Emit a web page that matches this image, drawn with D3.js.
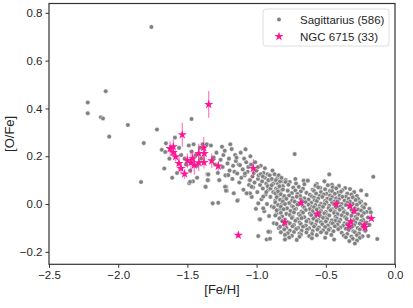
<!DOCTYPE html>
<html>
<head>
<meta charset="utf-8">
<script src="https://cdn.jsdelivr.net/npm/d3@7"></script>
<style>
  html, body { margin: 0; padding: 0; background: #fff; }
  svg { display: block; font-family: "Liberation Sans", Arial, sans-serif; }
</style>
</head>
<body>
<div id="chart"></div>
<script>
// ---- data ----
const xTicks = [-2.5, -2.0, -1.5, -1.0, -0.5, 0.0]
const yTicks = [-0.2, 0.0, 0.2, 0.4, 0.6, 0.8]
const legendLabels = ["Sagittarius (586)", "NGC 6715 (33)"]

// Sagittarius, metal-poor tail [Fe/H, O/Fe]
const sgrSparse = [
  [-2.22,0.425],[-2.22,0.38],[-2.09,0.472],[-2.125,0.363],[-2.11,0.358],[-1.93,0.331],
  [-2.065,0.282],[-1.76,0.741],[-1.72,0.312],[-1.815,0.255],[-1.655,0.254],[-1.685,0.227],
  [-1.66,0.218],[-1.667,0.149],[-1.61,0.11],[-1.835,0.092],[-1.47,0.356],[-1.59,0.278],
  [-1.487,0.087],[-1.56,0.235],[-1.545,0.205],[-1.52,0.19],[-1.49,0.245],[-1.47,0.22],
  [-1.455,0.25],[-1.44,0.205],[-1.48,0.14],[-1.43,0.16],[-1.41,0.235],[-1.40,0.19],
  [-1.39,0.25],[-1.51,0.165],[-1.575,0.13],[-1.63,0.19],[-1.36,0.25],[-1.355,0.125],
  [-1.35,0.10],[-1.37,0.072],[-1.43,0.11],[-1.46,0.095]
]

// Sagittarius, intermediate band
const sgrBand = [
  [-1.33,0.245],[-1.31,0.195],[-1.30,0.165],[-1.29,0.215],[-1.28,0.13],[-1.27,0.10],
  [-1.26,0.185],[-1.25,0.24],[-1.245,0.155],[-1.24,0.205],[-1.23,0.223],[-1.225,0.12],
  [-1.22,0.072],[-1.215,0.056],[-1.21,0.17],[-1.20,0.19],[-1.195,0.14],[-1.19,0.25],
  [-1.18,0.23],[-1.175,0.105],[-1.17,0.16],[-1.165,0.045],[-1.16,0.135],[-1.155,0.205],
  [-1.15,0.18],[-1.145,0.194],[-1.14,0.128],[-1.135,0.017],[-1.13,0.165],[-1.125,0.09],
  [-1.12,0.163],[-1.115,0.215],[-1.11,0.11],[-1.10,0.145],[-1.095,0.06],[-1.09,0.19],
  [-1.085,0.12],[-1.08,0.229],[-1.075,0.175],[-1.07,0.045],[-1.065,0.135],[-1.06,0.155],
  [-1.055,0.08],[-1.05,0.10],[-1.045,0.2],[-1.04,0.165],[-1.035,0.03],[-1.03,0.115],
  [-1.025,0.07],[-1.02,0.13],[-1.015,0.09],[-1.01,0.175],[-1.005,-0.02],[-1.0,0.14],
  [-0.995,0.05],[-0.99,0.105],[-0.985,0.12],[-0.98,-0.064],[-0.975,0.08],[-0.97,0.16],
  [-0.965,0.02],[-0.96,0.095],[-0.955,0.065],[-0.95,0.13],[-0.945,-0.03],[-0.94,0.11],
  [-0.935,0.04],[-0.93,0.085],[-0.925,0.0],[-0.92,0.125],[-0.915,0.06],[-0.91,-0.05],
  [-0.905,0.1],[-0.90,0.03],[-0.895,0.075],[-0.89,-0.01],[-0.885,0.14],[-0.88,0.05],
  [-0.875,-0.08],[-0.87,0.09],[-0.865,0.015],[-0.86,0.065],[-0.855,-0.04],[-0.85,0.11],
  [-0.845,0.035],[-0.84,-0.1],[-0.835,0.08],[-0.83,-0.02],[-0.825,0.055],[-0.82,0.0],
  [-0.815,-0.06],[-0.81,0.095],[-0.805,0.025],
  [-0.99,0.155],[-0.97,0.125],[-0.955,0.115],[-0.94,0.15],[-0.93,0.05],[-0.92,0.075],
  [-0.915,0.1],[-0.905,0.12],[-0.90,0.065],[-0.89,0.105],[-0.88,0.085],[-0.87,0.125],
  [-0.865,0.045],[-0.86,0.1],[-0.85,0.06],[-0.845,0.085],[-0.84,0.12],[-0.83,0.095],
  [-0.82,0.11],[-0.81,0.075],[-0.79,0.1],[-0.76,0.092],[-0.72,0.105],[-0.66,0.098],
  [-0.988,-0.134],[-0.927,-0.148],[-0.903,-0.145],[-0.795,-0.148],[-0.975,-0.064],
  [-0.903,-0.116],[-0.915,-0.116],[-0.952,-0.018],[-0.988,0.003],[-0.952,0.031],
  [-1.048,0.045],[-1.036,0.072],[-0.891,0.079],[-1.084,0.128],[-1.205,0.121],
  [-1.317,0.003],[-1.277,0.005],[-1.139,0.014],[-1.228,0.072],[-1.221,0.056],
  [-1.349,0.124],[-1.353,0.10],[-1.368,0.072],[-1.481,0.093],[-1.072,0.045],[-1.048,0.10]
]

// Sagittarius, metal-rich clump
const sgrCore = [
  [-0.79,0.092],[-0.715,0.086],[-0.63,0.098],[-0.565,0.084],[-0.51,0.095],[-0.455,0.081],
  [-0.835,0.074],[-0.77,0.081],[-0.695,0.072],[-0.655,0.083],[-0.575,0.077],[-0.54,0.068],[-0.485,0.079],[-0.45,0.07],[-0.405,0.076],[-0.36,0.067],
  [-0.81,0.061],[-0.735,0.069],[-0.72,0.057],[-0.665,0.064],[-0.595,0.06],[-0.555,0.07],[-0.505,0.062],[-0.47,0.055],[-0.425,0.066],[-0.38,0.058],[-0.325,0.063],[-0.245,0.057],
  [-0.845,0.052],[-0.775,0.056],[-0.745,0.046],[-0.68,0.053],[-0.64,0.047],[-0.585,0.055],[-0.535,0.05],[-0.495,0.043],[-0.455,0.054],[-0.41,0.048],[-0.39,0.052],[-0.345,0.044],[-0.295,0.05],
  [-0.825,0.041],[-0.765,0.036],[-0.705,0.042],[-0.685,0.033],[-0.615,0.039],[-0.57,0.044],[-0.545,0.034],[-0.515,0.04],[-0.47,0.036],[-0.435,0.043],[-0.4,0.035],[-0.355,0.031],[-0.315,0.04],[-0.275,0.034],[-0.205,0.038],
  [-0.855,0.029],[-0.8,0.033],[-0.74,0.025],[-0.71,0.031],[-0.655,0.024],[-0.6,0.032],[-0.585,0.027],[-0.525,0.03],[-0.49,0.022],[-0.455,0.029],[-0.425,0.024],[-0.38,0.03],[-0.335,0.022],[-0.305,0.028],[-0.265,0.021],
  [-0.83,0.018],[-0.785,0.022],[-0.745,0.014],[-0.68,0.02],[-0.67,0.012],[-0.625,0.019],[-0.58,0.016],[-0.555,0.023],[-0.505,0.013],[-0.465,0.019],[-0.44,0.011],[-0.405,0.02],[-0.365,0.014],[-0.325,0.01],[-0.285,0.017],[-0.245,0.011],
  [-0.865,0.007],[-0.81,0.011],[-0.765,0.004],[-0.725,0.01],[-0.69,0.002],[-0.645,0.008],[-0.605,0.005],[-0.565,0.012],[-0.535,0.001],[-0.495,0.007],[-0.455,0.004],[-0.415,0.01],[-0.385,0.0],[-0.345,0.006],[-0.305,0.001],[-0.255,0.005],[-0.215,-0.001],
  [-0.845,-0.004],[-0.795,0.0],[-0.745,-0.008],[-0.705,-0.002],[-0.665,-0.009],[-0.625,-0.003],[-0.6,-0.011],[-0.575,-0.004],[-0.545,-0.008],[-0.51,-0.001],[-0.475,-0.007],[-0.44,-0.002],[-0.395,-0.01],[-0.355,-0.004],[-0.32,-0.008],[-0.275,-0.003],[-0.235,-0.01],
  [-0.875,-0.014],[-0.825,-0.011],[-0.78,-0.018],[-0.735,-0.012],[-0.715,-0.02],[-0.655,-0.015],[-0.615,-0.021],[-0.585,-0.013],[-0.55,-0.019],[-0.52,-0.012],[-0.48,-0.017],[-0.455,-0.022],[-0.425,-0.014],[-0.38,-0.019],[-0.33,-0.013],[-0.29,-0.018],[-0.265,-0.023],[-0.225,-0.015],[-0.185,-0.02],
  [-0.855,-0.026],[-0.805,-0.022],[-0.755,-0.029],[-0.725,-0.024],[-0.675,-0.031],[-0.645,-0.025],[-0.595,-0.03],[-0.565,-0.023],[-0.535,-0.028],[-0.5,-0.033],[-0.465,-0.026],[-0.435,-0.031],[-0.4,-0.024],[-0.365,-0.03],[-0.315,-0.025],[-0.295,-0.032],[-0.245,-0.027],[-0.205,-0.033],
  [-0.825,-0.037],[-0.785,-0.041],[-0.73,-0.035],[-0.695,-0.042],[-0.665,-0.036],[-0.615,-0.04],[-0.58,-0.044],[-0.545,-0.034],[-0.51,-0.039],[-0.485,-0.045],[-0.44,-0.037],[-0.415,-0.042],[-0.37,-0.035],[-0.345,-0.041],[-0.305,-0.036],[-0.265,-0.043],[-0.225,-0.038],[-0.175,-0.034],
  [-0.865,-0.048],[-0.815,-0.052],[-0.76,-0.046],[-0.74,-0.054],[-0.685,-0.049],[-0.655,-0.055],[-0.605,-0.047],[-0.575,-0.053],[-0.54,-0.05],[-0.505,-0.056],[-0.475,-0.048],[-0.43,-0.053],[-0.385,-0.047],[-0.36,-0.055],[-0.315,-0.049],[-0.285,-0.054],[-0.24,-0.05],[-0.195,-0.056],
  [-0.835,-0.06],[-0.795,-0.065],[-0.745,-0.058],[-0.705,-0.064],[-0.675,-0.059],[-0.625,-0.066],[-0.59,-0.061],[-0.555,-0.067],[-0.52,-0.058],[-0.49,-0.063],[-0.455,-0.068],[-0.42,-0.06],[-0.395,-0.066],[-0.35,-0.062],[-0.3,-0.068],[-0.275,-0.061],[-0.23,-0.066],
  [-0.815,-0.071],[-0.775,-0.076],[-0.72,-0.07],[-0.69,-0.077],[-0.64,-0.072],[-0.61,-0.078],[-0.565,-0.071],[-0.535,-0.076],[-0.5,-0.073],[-0.465,-0.079],[-0.43,-0.07],[-0.405,-0.075],[-0.365,-0.08],[-0.315,-0.073],[-0.285,-0.078],[-0.245,-0.071],[-0.205,-0.077],
  [-0.855,-0.083],[-0.8,-0.087],[-0.76,-0.081],[-0.73,-0.088],[-0.68,-0.084],[-0.645,-0.09],[-0.6,-0.082],[-0.575,-0.087],[-0.525,-0.085],[-0.485,-0.09],[-0.45,-0.081],[-0.415,-0.086],[-0.375,-0.091],[-0.345,-0.083],[-0.295,-0.088],[-0.255,-0.082],[-0.185,-0.087],
  [-0.83,-0.095],[-0.785,-0.099],[-0.74,-0.093],[-0.7,-0.1],[-0.665,-0.095],[-0.62,-0.101],[-0.585,-0.094],[-0.55,-0.098],[-0.505,-0.096],[-0.47,-0.102],[-0.435,-0.093],[-0.395,-0.098],[-0.355,-0.103],[-0.31,-0.095],[-0.27,-0.1],[-0.235,-0.094],
  [-0.8,-0.106],[-0.76,-0.111],[-0.715,-0.105],[-0.675,-0.112],[-0.635,-0.107],[-0.595,-0.113],[-0.56,-0.106],[-0.52,-0.11],[-0.48,-0.108],[-0.445,-0.114],[-0.41,-0.105],[-0.335,-0.109],[-0.3,-0.114],[-0.255,-0.106],[-0.215,-0.112],
  [-0.825,-0.118],[-0.775,-0.122],[-0.73,-0.117],[-0.69,-0.123],[-0.64,-0.119],[-0.6,-0.125],[-0.535,-0.118],[-0.495,-0.121],[-0.385,-0.12],[-0.345,-0.125],[-0.29,-0.118],[-0.26,-0.123],
  [-0.795,-0.129],[-0.745,-0.133],[-0.68,-0.128],[-0.62,-0.134],[-0.565,-0.13],[-0.46,-0.129],[-0.37,-0.132],[-0.315,-0.136],[-0.275,-0.13],[-0.235,-0.135],
  [-0.765,-0.14],[-0.69,-0.137],[-0.6,-0.143],[-0.505,-0.141],[-0.355,-0.139],[-0.305,-0.145],[-0.255,-0.142],
  [-0.71,-0.15],[-0.44,-0.148],[-0.33,-0.155],[-0.275,-0.153],[-0.29,-0.165],[-0.795,-0.148],
  [-0.128,-0.146],[-0.193,-0.134],[-0.725,0.209],[-0.475,0.124],[-0.157,0.114]
]

// NGC 6715 [Fe/H, O/Fe, error]
const ngcStars = [
  [-1.346,0.417,0.056],[-1.537,0.290,0.05],[-1.602,0.240,0.03],[-1.602,0.216,0.02],
  [-1.382,0.236,0.045],[-1.378,0.212,0.03],[-1.418,0.212,0.04],[-1.561,0.170,0.03],
  [-1.546,0.149,0.025],[-1.520,0.126,0.02],[-1.474,0.173,0.045],[-1.450,0.163,0.04],
  [-1.418,0.173,0.035],[-1.380,0.174,0.025],[-1.324,0.181,0.03],[-1.277,0.159,0.02],
  [-1.024,0.149,0.04],[-1.132,-0.130,0.01],[-0.679,0.005,0.01],[-0.797,-0.077,0.01],
  [-0.561,-0.042,0.01],[-0.424,0.000,0.01],[-0.325,-0.008,0.01],[-0.294,-0.029,0.01],
  [-0.320,-0.074,0.01],[-0.332,-0.092,0.01],[-0.222,-0.088,0.01],[-0.217,-0.098,0.01],
  [-0.171,-0.060,0.01],[-1.625,0.232,0.03],[-1.585,0.198,0.02],[-1.500,0.182,0.03],
  [-1.462,0.190,0.035]
]

const sgrAll = sgrSparse.concat(sgrBand, sgrCore)

const W = 413, H = 308
const margin = { top: 3.5, right: 18, bottom: 43.7, left: 49 }
const width = W - margin.left - margin.right
const height = H - margin.top - margin.bottom

const svg = d3.select("#chart").append("svg")
  .attr("width", W)
  .attr("height", H)

const g = svg.append("g").attr("transform", `translate(${margin.left},${margin.top})`)

const x = d3.scaleLinear().domain([-2.5, 0]).range([0, width])
const y = d3.scaleLinear().domain([-0.252, 0.839]).range([height, 0])

const grey = "#808080"
const pink = "#ff1493"
const axisColor = "#333"

// sagittarius dots
g.append("g")
  .selectAll("circle")
  .data(sgrAll)
  .enter()
  .append("circle")
  .attr("cx", (d) => x(d[0]))
  .attr("cy", (d) => y(d[1]))
  .attr("r", 2.3)
  .attr("fill", grey)
  .attr("stroke", "#fff")
  .attr("stroke-width", 0.5)

// error bars
g.append("g")
  .selectAll("line")
  .data(ngcStars)
  .enter()
  .append("line")
  .attr("x1", (d) => x(d[0]))
  .attr("x2", (d) => x(d[0]))
  .attr("y1", (d) => y(d[1] - d[2]))
  .attr("y2", (d) => y(d[1] + d[2]))
  .attr("stroke", pink)
  .attr("stroke-opacity", 0.6)
  .attr("stroke-width", 1.1)

const star = d3.symbol().type(d3.symbolStar).size(26)

g.append("g")
  .selectAll("path")
  .data(ngcStars)
  .enter()
  .append("path")
  .attr("d", star)
  .attr("transform", (d) => `translate(${x(d[0])},${y(d[1])})`)
  .attr("fill", pink)

// axes
const fmt = d3.format(".1f")
const xAxis = g.append("g")
  .attr("transform", `translate(0,${height})`)
  .call(d3.axisBottom(x).tickValues(xTicks).tickFormat(fmt).tickSizeOuter(0).tickSize(3.5).tickPadding(3))
const yAxis = g.append("g")
  .call(d3.axisLeft(y).tickValues(yTicks).tickFormat(fmt).tickSizeOuter(0).tickSize(3.5).tickPadding(3))

;[xAxis, yAxis].forEach((a) => {
  a.select(".domain").remove()
  a.selectAll(".tick line").attr("stroke", axisColor).attr("stroke-width", 1)
  a.selectAll(".tick text")
    .attr("fill", "#262626")
    .style("font-size", "11.5px")
    .style("font-family", "'Liberation Sans', Arial, sans-serif")
})

g.append("rect")
  .attr("x", 0)
  .attr("y", 0)
  .attr("width", width)
  .attr("height", height)
  .attr("fill", "none")
  .attr("stroke", axisColor)
  .attr("stroke-width", 1.2)

g.append("text")
  .attr("x", width / 2)
  .attr("y", height + 30)
  .attr("text-anchor", "middle")
  .attr("fill", "#262626")
  .style("font-size", "13px")
  .text("[Fe/H]")

g.append("text")
  .attr("transform", "rotate(-90)")
  .attr("x", -height / 2)
  .attr("y", -35)
  .attr("text-anchor", "middle")
  .attr("fill", "#262626")
  .style("font-size", "13px")
  .text("[O/Fe]")

// legend
const legend = svg.append("g").attr("transform", "translate(263,9)")
legend.append("rect")
  .attr("width", 126)
  .attr("height", 37)
  .attr("rx", 3)
  .attr("fill", "#fff")
  .attr("fill-opacity", 0.8)
  .attr("stroke", "#d6d6d6")
  .attr("stroke-width", 0.8)

legend.append("circle")
  .attr("cx", 16)
  .attr("cy", 10.5)
  .attr("r", 2)
  .attr("fill", grey)

legend.append("path")
  .attr("d", star)
  .attr("transform", "translate(16,27.5)")
  .attr("fill", pink)

legend.selectAll("text.lab")
  .data(legendLabels)
  .enter()
  .append("text")
  .attr("class", "lab")
  .attr("x", 37)
  .attr("y", (d, i) => 14.5 + i * 17)
  .attr("fill", "#262626")
  .style("font-size", "11.5px")
  .text((d) => d)
</script>
</body>
</html>
